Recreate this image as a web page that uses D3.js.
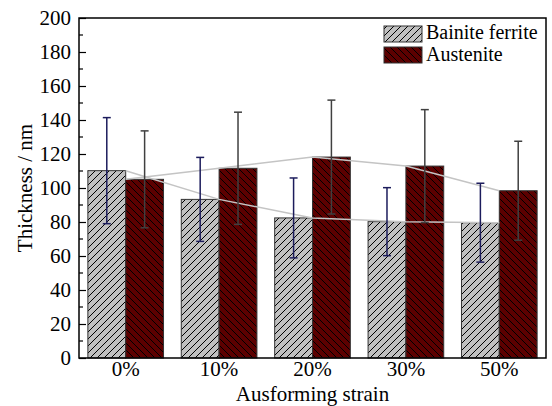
<!DOCTYPE html>
<html>
<head>
<meta charset="utf-8">
<script src="https://cdn.jsdelivr.net/npm/d3@7"></script>
<style>
  body { margin: 0; background: #fff; }
  text { font-family: "Liberation Serif", "Times New Roman", serif; }
</style>
</head>
<body>
<script>
let width = 552;
let height = 406;
let margin = { top: 18, right: 6, bottom: 48, left: 79 };

var strains = ['0%', '10%', '20%', '30%', '50%'];
var seriesNames = ['Bainite ferrite', 'Austenite'];
var ferrite = [110.2, 93.3, 82.4, 80.2, 79.6];
var ferriteErr = [31.2, 24.7, 23.5, 20.0, 23.2];
var austenite = [105.1, 111.6, 118.2, 112.9, 98.4];
var austeniteErr = [28.5, 33.0, 33.5, 33.2, 29.1];
var yTicks = [0, 20, 40, 60, 80, 100, 120, 140, 160, 180, 200];

var fills = ['#c0c0c0', '#5c0000'];
var errColors = ['#1c1c5c', '#404040'];

var svg = d3.select('body')
            .append('svg')
            .attr('width', width)
            .attr('height', height);

var defs = svg.append('defs');

// hatch patterns: "/" for ferrite, "\" for austenite
var p1 = defs.append('pattern').attr('id', 'hatch0').attr('patternUnits', 'userSpaceOnUse')
    .attr('width', 7).attr('height', 7);
p1.append('rect').attr('width', 7).attr('height', 7).attr('fill', fills[0]);
p1.append('path').attr('d', 'M0,7 L7,0 M-1,1 L1,-1 M6,8 L8,6').attr('stroke', '#000').attr('stroke-width', 1);

var p2 = defs.append('pattern').attr('id', 'hatch1').attr('patternUnits', 'userSpaceOnUse')
    .attr('width', 7).attr('height', 7);
p2.append('rect').attr('width', 7).attr('height', 7).attr('fill', fills[1]);
p2.append('path').attr('d', 'M0,0 L7,7 M-1,6 L1,8 M6,-1 L8,1').attr('stroke', '#000').attr('stroke-width', 1);

var x = d3.scaleBand()
          .domain(strains)
          .range([margin.left, width - margin.right])
          .paddingInner(0.19)
          .paddingOuter(0.095);

var xSub = d3.scaleBand()
             .domain([0, 1])
             .range([0, x.bandwidth()]);

var y = d3.scaleLinear()
          .domain([0, 200])
          .range([height - margin.bottom, margin.top]);

var data = [ferrite, austenite];
var errs = [ferriteErr, austeniteErr];

// bars
for (var s = 0; s < 2; s++) {
  svg.append('g').selectAll('rect')
     .data(data[s])
     .enter()
     .append('rect')
     .attr('x', (d, i) => x(strains[i]) + xSub(s))
     .attr('y', d => y(d))
     .attr('width', xSub.bandwidth())
     .attr('height', d => y(0) - y(d))
     .attr('fill', 'url(#hatch' + s + ')')
     .attr('stroke', '#333')
     .attr('stroke-width', 1);
}

// light grey connecting lines through group centres
var line = d3.line()
             .x((d, i) => x(strains[i]) + x.bandwidth() / 2)
             .y(d => y(d));

for (var s = 0; s < 2; s++) {
  svg.append('path')
     .datum(data[s])
     .attr('d', line)
     .attr('fill', 'none')
     .attr('stroke', '#c4c4c4')
     .attr('stroke-width', 1.5);
}

// error bars
for (var s = 0; s < 2; s++) {
  var g = svg.append('g').attr('stroke', errColors[s]).attr('stroke-width', 1.5);
  data[s].forEach(function(v, i) {
    var cx = x(strains[i]) + xSub(s) + xSub.bandwidth() / 2;
    var top = y(v + errs[s][i]);
    var bot = y(v - errs[s][i]);
    g.append('line').attr('x1', cx).attr('x2', cx).attr('y1', top).attr('y2', bot);
    g.append('line').attr('x1', cx - 4).attr('x2', cx + 4).attr('y1', top).attr('y2', top);
    g.append('line').attr('x1', cx - 4).attr('x2', cx + 4).attr('y1', bot).attr('y2', bot);
  });
}

// frame
svg.append('rect')
   .attr('x', margin.left)
   .attr('y', margin.top)
   .attr('width', width - margin.right - margin.left)
   .attr('height', height - margin.bottom - margin.top)
   .attr('fill', 'none')
   .attr('stroke', '#000')
   .attr('stroke-width', 1.5);

// y axis, inward ticks, minor ticks at 10s
var yAxis = svg.append('g')
   .attr('transform', 'translate(' + margin.left + ',0)')
   .call(d3.axisLeft(y).tickValues(yTicks).tickSize(-7).tickPadding(8).tickFormat(d3.format('d')));
yAxis.select('.domain').remove();
yAxis.selectAll('text').attr('font-size', 21).attr('fill', '#000').style('font-family', '"Liberation Serif", serif');
yAxis.selectAll('line').attr('stroke-width', 1.2);

var minor = d3.range(10, 200, 20);
svg.append('g').selectAll('line')
   .data(minor)
   .enter()
   .append('line')
   .attr('x1', margin.left)
   .attr('x2', margin.left + 4)
   .attr('y1', d => y(d))
   .attr('y2', d => y(d))
   .attr('stroke', '#000')
   .attr('stroke-width', 1.2);

// x axis labels
var xAxis = svg.append('g')
   .attr('transform', 'translate(0,' + (height - margin.bottom) + ')')
   .call(d3.axisBottom(x).tickSize(0).tickPadding(3));
xAxis.select('.domain').remove();
xAxis.selectAll('text').attr('font-size', 21).attr('fill', '#000').style('font-family', '"Liberation Serif", serif');

// axis titles
svg.append('text')
   .attr('x', (margin.left + width - margin.right) / 2)
   .attr('y', 401)
   .attr('text-anchor', 'middle')
   .attr('font-size', 21)
   .text('Ausforming strain');

svg.append('text')
   .attr('transform', 'translate(32,' + ((margin.top + height - margin.bottom) / 2) + ') rotate(-90)')
   .attr('text-anchor', 'middle')
   .attr('font-size', 21)
   .text('Thickness / nm');

// legend
var legend = svg.append('g');
seriesNames.forEach(function(name, i) {
  legend.append('rect')
        .attr('x', 384)
        .attr('y', 26 + i * 21)
        .attr('width', 38)
        .attr('height', 16)
        .attr('fill', 'url(#hatch' + i + ')')
        .attr('stroke', '#333')
        .attr('stroke-width', 1);
  legend.append('text')
        .attr('x', 426)
        .attr('y', 39 + i * 22)
        .attr('font-size', 20)
        .text(name);
});
</script>
</body>
</html>
